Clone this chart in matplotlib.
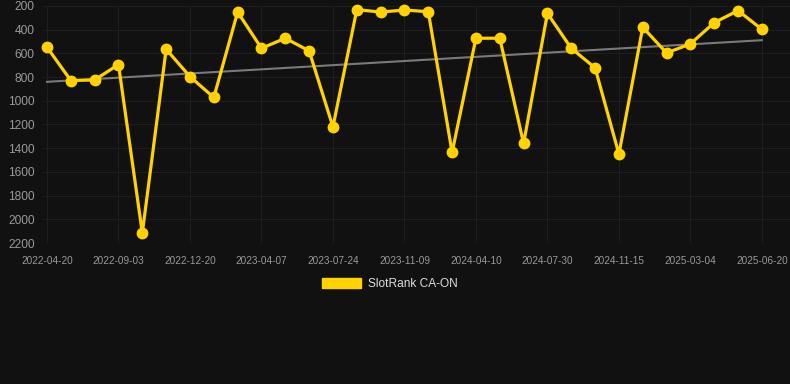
import matplotlib
matplotlib.use("Agg")
import matplotlib.pyplot as plt
from matplotlib.patches import Patch
import numpy as np

plt.rcParams['font.family'] = ['Liberation Sans', 'DejaVu Sans']

tick_labels = ["2022-04-20", "2022-09-03", "2022-12-20", "2023-04-07", "2023-07-24",
               "2023-11-09", "2024-04-10", "2024-07-30", "2024-11-15", "2025-03-04",
               "2025-06-20"]
ranks = [548, 829, 824, 694, 2116, 565, 796, 972, 251, 557, 472, 579, 1220,
         231, 251, 234, 248, 1436, 472, 472, 1360, 262, 557, 722, 1450, 380,
         596, 520, 340, 239, 397]
series_name = "SlotRank CA-ON"

bg = "#111111"
W, H = 790, 384
fig = plt.figure(figsize=(W / 100, H / 100), dpi=100, facecolor=bg)
ax = fig.add_axes([43 / W, 1 - 243 / H, (W - 43) / W, (243 - 6) / H], facecolor=bg)

x = np.arange(len(ranks))
y = np.array(ranks, dtype=float)

# trend line (linear regression)
coef = np.polyfit(x, y, 1)
ax.plot(x, np.polyval(coef, x), color="#7a7a7a", lw=1.5, zorder=2)

ax.plot(x, y, color="#FFD200", lw=2.3, marker="o", markersize=7.5,
        markerfacecolor="#FFD200", markeredgecolor="#FFD200", zorder=3, clip_on=False)

ax.set_xlim(-4 / 23.83, (W - 47) / 23.83)
ax.set_ylim(2200, 200)
ax.set_yticks(np.arange(200, 2201, 200))
ax.set_xticks(np.arange(0, len(ranks), 3))
ax.set_xticklabels(tick_labels)

ax.grid(True, color="#1e1e1e", lw=0.8)
ax.set_axisbelow(True)
for s in ax.spines.values():
    s.set_visible(False)
ax.axhline(2200, color="#262626", lw=0.8, zorder=1)
ax.tick_params(axis="y", colors="#9a9a9a", labelsize=8.6, length=0, pad=6)
ax.tick_params(axis="x", colors="#9a9a9a", labelsize=7.2, length=0, pad=9)

handle = Patch(facecolor="#FFD200", edgecolor="#FFD200")
leg = fig.legend([handle], [series_name], loc="center", bbox_to_anchor=(390 / W, 1 - 284 / H),
                 frameon=False, fontsize=8.6, handlelength=3.3, handleheight=1.0,
                 handletextpad=0.6, labelcolor="#dddddd")

fig.savefig("out.png", dpi=100, facecolor=bg)
